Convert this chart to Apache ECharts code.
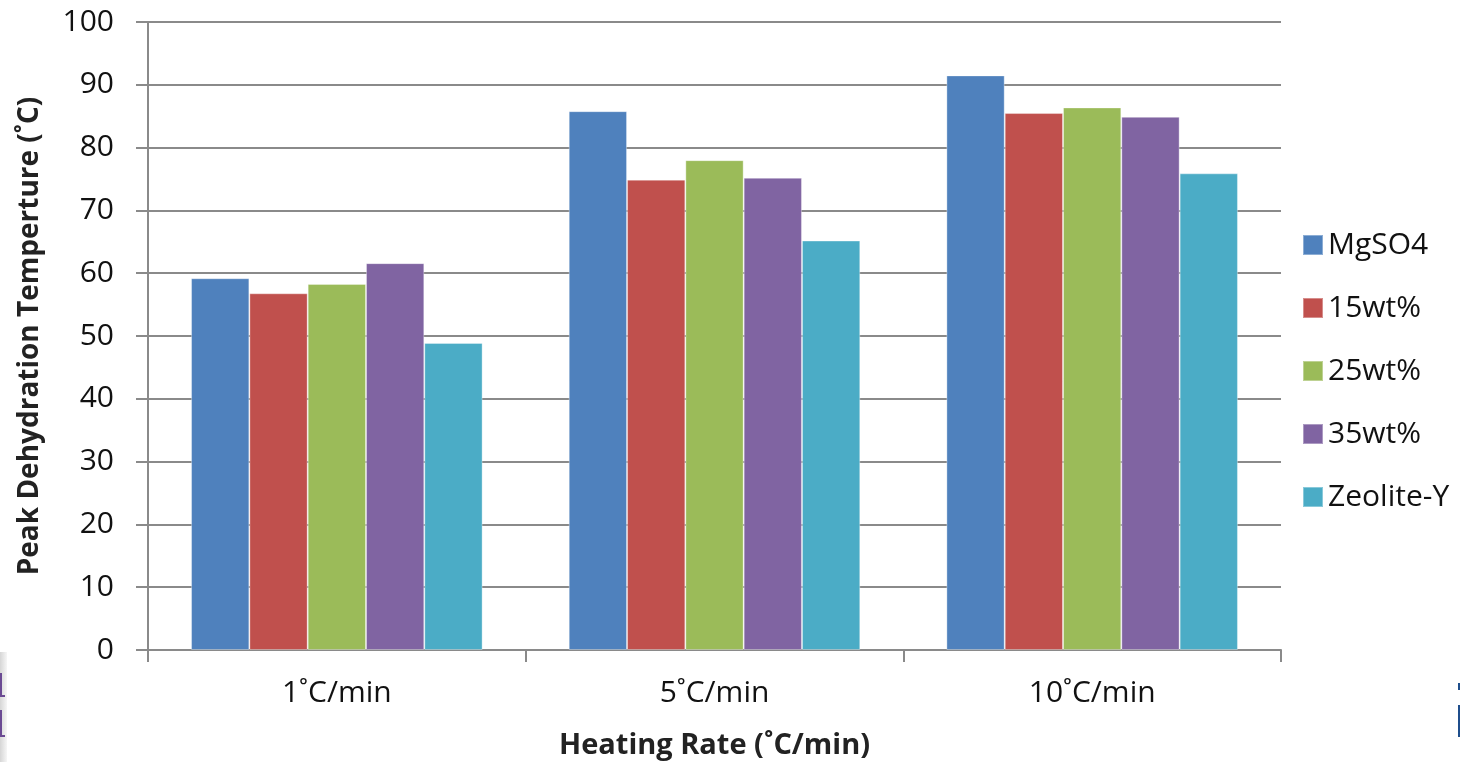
<!DOCTYPE html>
<html>
<head>
<meta charset="utf-8">
<script src="https://cdn.jsdelivr.net/npm/echarts@6/dist/echarts.min.js"></script>
<style>
  html, body { margin: 0; padding: 0; background: #fff; }
  #chart { width: 1460px; height: 762px; }
</style>
</head>
<body>
<div id="chart"></div>
<script>
// Heating rates on the category axis
const categories = ['1˚C/min', '5˚C/min', '10˚C/min'];
// Series names and peak dehydration temperatures (˚C)
const seriesNames = ['MgSO4', '15wt%', '25wt%', '35wt%', 'Zeolite-Y'];
const mgso4    = [59.2, 85.8, 91.5];
const wt15     = [56.8, 74.9, 85.5];
const wt25     = [58.3, 78.0, 86.4];
const wt35     = [61.6, 75.2, 84.9];
const zeolite  = [48.9, 65.2, 75.9];
const seriesValues = [mgso4, wt15, wt25, wt35, zeolite];
const colors = ['#4F81BD', '#C0504D', '#9BBB59', '#8064A2', '#4BACC6'];

const FONT = '"Open Sans", "Liberation Sans", sans-serif';
const AXIS_GREY = '#8a8a8a';
const chart = echarts.init(document.getElementById('chart'));

chart.setOption({
  animation: false,
  backgroundColor: '#ffffff',
  textStyle: { fontFamily: FONT },
  grid: { left: 148, right: 179, top: 22, bottom: 112, outerBoundsMode: 'none', containLabel: false },
  legend: {
    orient: 'vertical',
    left: 1297,
    top: 219,
    itemWidth: 20,
    itemHeight: 20,
    itemGap: 21,
    icon: 'rect',
    textStyle: { fontSize: 30, color: '#111', fontFamily: FONT, padding: [0, 0, 0, 0], lineHeight: 42 },
    data: seriesNames
  },
  xAxis: {
    type: 'category',
    data: categories,
    name: 'Heating Rate (˚C/min)',
    nameLocation: 'middle',
    nameGap: 96,
    nameTextStyle: { fontSize: 29, fontWeight: 'bold', color: '#222', fontFamily: FONT, verticalAlign: 'middle' },
    axisLine: { lineStyle: { color: AXIS_GREY, width: 2 } },
    axisTick: { show: true, length: 12, lineStyle: { color: AXIS_GREY, width: 2 } },
    axisLabel: { fontSize: 30, color: '#111', margin: 28, fontFamily: FONT }
  },
  yAxis: {
    type: 'value',
    min: 0,
    max: 100,
    interval: 10,
    name: 'Peak Dehydration Temperture (˚C)',
    nameLocation: 'middle',
    nameGap: 118,
    nameTextStyle: { fontSize: 28, fontWeight: 'bold', color: '#222', fontFamily: FONT, verticalAlign: 'middle' },
    axisLine: { show: true, lineStyle: { color: AXIS_GREY, width: 2 } },
    axisTick: { show: true, length: 12, lineStyle: { color: AXIS_GREY, width: 2 } },
    axisLabel: { fontSize: 30, color: '#111', margin: 34, fontFamily: FONT },
    splitLine: { lineStyle: { color: AXIS_GREY, width: 2 } }
  },
  series: seriesNames.map((name, i) => ({
    name: name,
    type: 'bar',
    data: seriesValues[i],
    barGap: '0%',
    barCategoryGap: '22.8%',
    itemStyle: { color: colors[i], borderColor: 'rgba(255,255,255,0.35)', borderWidth: 1 }
  })),
  // slide edge fragments along the lower borders
  graphic: [
    {
      type: 'rect', left: 0, top: 652, silent: true,
      shape: { width: 7, height: 110 },
      style: {
        fill: new echarts.graphic.LinearGradient(0, 0, 1, 0, [
          { offset: 0, color: '#d6d6d6' }, { offset: 1, color: '#f6f6f6' }
        ])
      }
    },
    { type: 'rect', left: 0, top: 673, silent: true, shape: { width: 2, height: 24 }, style: { fill: '#6b4a93' } },
    { type: 'rect', left: 0, top: 695, silent: true, shape: { width: 5, height: 2 }, style: { fill: '#6b4a93' } },
    { type: 'rect', left: 0, top: 710, silent: true, shape: { width: 2, height: 27 }, style: { fill: '#6b4a93' } },
    { type: 'rect', left: 0, top: 735, silent: true, shape: { width: 5, height: 2 }, style: { fill: '#6b4a93' } },
    { type: 'rect', left: 1458, top: 683, silent: true, shape: { width: 2, height: 7 }, style: { fill: '#1f4e8c' } },
    { type: 'rect', left: 1458, top: 705, silent: true, shape: { width: 2, height: 32 }, style: { fill: '#1f4e8c' } }
  ]
});
</script>
</body>
</html>
